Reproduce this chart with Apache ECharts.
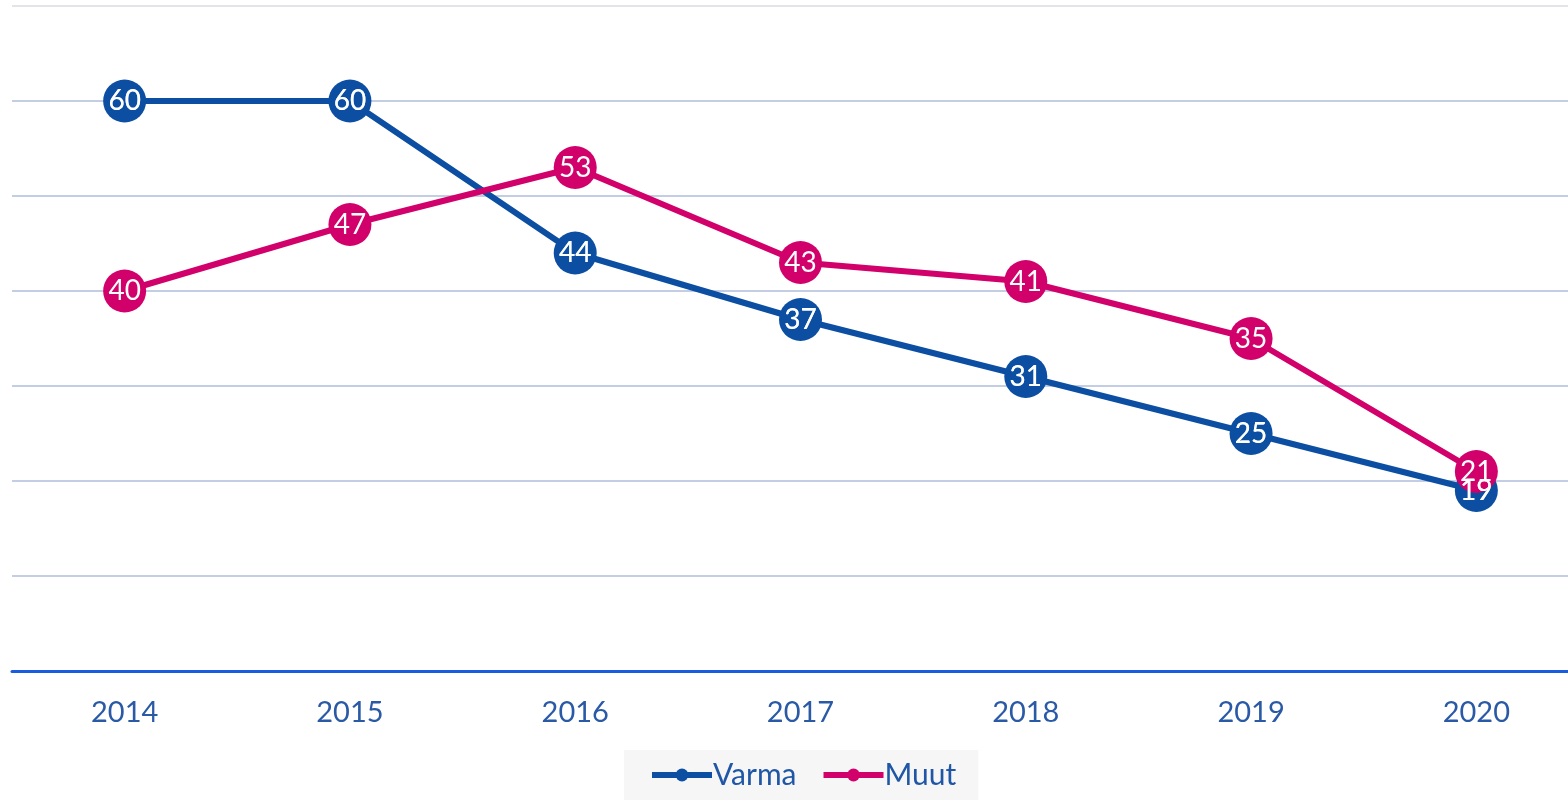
<!DOCTYPE html>
<html>
<head>
<meta charset="utf-8">
<script src="https://cdn.jsdelivr.net/npm/echarts@6/dist/echarts.min.js"></script>
<style>
  html, body { margin: 0; padding: 0; background: #fff; }
  #chart { width: 1568px; height: 801px; }
</style>
</head>
<body>
<div id="chart"></div>
<script>
// 数据
const years = ['2014', '2015', '2016', '2017', '2018', '2019', '2020'];
const varma = [60, 60, 44, 37, 31, 25, 19];
const muut = [40, 47, 53, 43, 41, 35, 21];

const blue = '#0b4ea2';
const pink = '#d1006a';
const font = 'Lato, "Open Sans", sans-serif';

const chart = echarts.init(document.getElementById('chart'));

const labelStyle = {
  show: true,
  position: 'inside',
  color: '#fff',
  fontSize: 28,
  fontFamily: font
};

function lineSeries(name, data, color) {
  return {
    name: name,
    type: 'line',
    data: data,
    symbol: 'circle',
    symbolSize: 43,
    lineStyle: { color: color, width: 6 },
    itemStyle: { color: color },
    label: labelStyle,
    emphasis: { disabled: true }
  };
}

// 只显示标签，放在单独的上层
function labelSeries(name, data) {
  return {
    name: name,
    type: 'scatter',
    data: data,
    zlevel: 1,
    symbol: 'circle',
    symbolSize: 43,
    itemStyle: { color: 'rgba(0,0,0,0)', borderWidth: 0 },
    label: labelStyle,
    silent: true,
    emphasis: { disabled: true }
  };
}

chart.setOption({
  animation: false,
  // 右侧超出画布
  grid: { left: 12, width: 1577, top: 6, bottom: 130, outerBoundsMode: 'none', containLabel: false },
  legend: {
    left: 624,
    top: 750,
    padding: [10, 22, 10, 25],
    backgroundColor: '#f6f6f6',
    itemWidth: 60,
    itemHeight: 16,
    itemGap: 24,
    lineStyle: { width: 6 },
    textStyle: { color: '#1f56a6', fontSize: 30, lineHeight: 30, fontFamily: font, padding: [0, 0, 0, -4] },
    data: ['Varma', 'Muut']
  },
  xAxis: {
    type: 'category',
    data: years,
    boundaryGap: true,
    axisLine: { lineStyle: { color: '#1a5ce0', width: 3 } },
    axisTick: { show: false },
    axisLabel: { color: '#2a5aa6', fontSize: 29, fontFamily: font, margin: 27 }
  },
  yAxis: {
    type: 'value',
    min: 0,
    max: 70,
    interval: 10,
    axisLabel: { show: false },
    axisLine: { show: false },
    axisTick: { show: false },
    splitLine: {
      lineStyle: {
        color: ['#c3cde3', '#c3cde3', '#c3cde3', '#c3cde3', '#c3cde3', '#c3cde3', '#c3cde3', '#e3e4e8'],
        width: 2
      }
    }
  },
  series: [
    lineSeries('Varma', varma, blue),
    lineSeries('Muut', muut, pink),
    labelSeries('VarmaLabel', varma)
  ]
});
</script>
</body>
</html>
